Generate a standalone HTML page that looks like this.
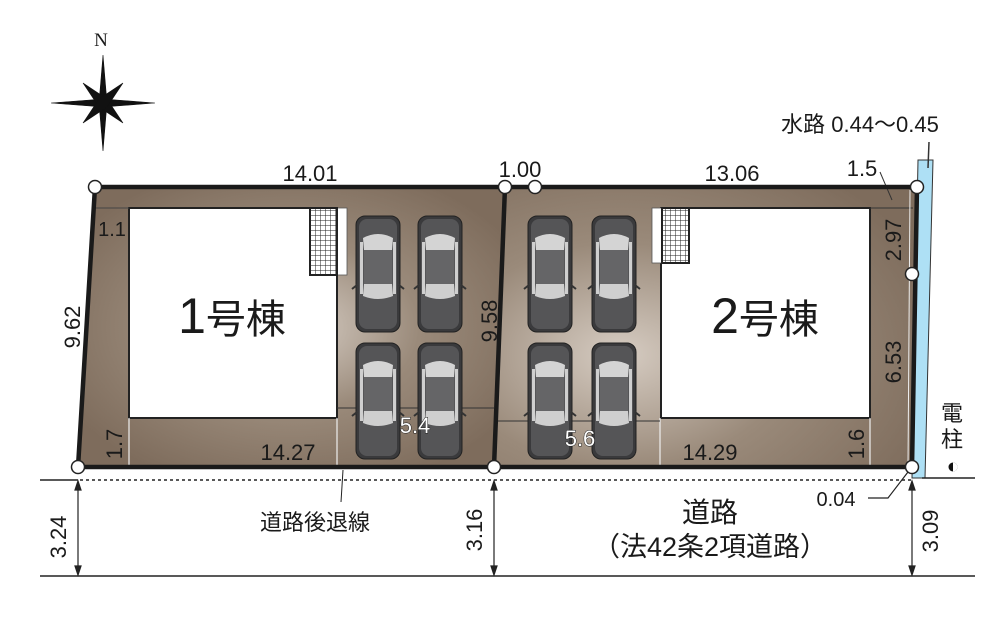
<!DOCTYPE html>
<html><head><meta charset="utf-8"><style>
html,body{margin:0;padding:0;background:#fff}
svg{display:block}
text{font-family:"Liberation Sans","Noto Sans CJK JP",sans-serif;fill:#1a1a1a}
</style></head><body>
<svg width="1000" height="618" viewBox="0 0 1000 618" xmlns="http://www.w3.org/2000/svg">
<defs>
<radialGradient id="g1" cx="0.5" cy="0.5" r="0.6">
<stop offset="0" stop-color="#d8cfc6"/><stop offset="0.5" stop-color="#9a8a7a"/><stop offset="1" stop-color="#7e6c5c"/>
</radialGradient>
<radialGradient id="g2" cx="0.3" cy="0.6" r="0.8">
<stop offset="0" stop-color="#d6ccc2"/><stop offset="0.5" stop-color="#9a8a7a"/><stop offset="1" stop-color="#7e6c5c"/>
</radialGradient>
<pattern id="grid" width="5" height="5" patternUnits="userSpaceOnUse">
<rect width="5" height="5" fill="#fff"/><path d="M0 0H5M0 0V5" stroke="#222" stroke-width="1"/>
</pattern>
<g id="car">
<rect x="0" y="0" width="44" height="116" rx="9" fill="#3a3a3c" stroke="#222" stroke-width="1"/>
<rect x="3" y="3" width="38" height="110" rx="8" fill="#555557"/>
<path d="M7 22 Q22 14 37 22 L36 34 H8 Z" fill="#d4d4d4"/>
<rect x="8" y="34" width="28" height="34" fill="#656567"/>
<path d="M8 68 H36 L37 80 Q22 86 7 80 Z" fill="#cfcfcf"/>
<rect x="4" y="26" width="3" height="52" fill="#cfcfcf"/><rect x="37" y="26" width="3" height="52" fill="#cfcfcf"/>
<path d="M1 69 l-5 4 M43 69 l5 4" stroke="#333" stroke-width="2"/>
</g>
</defs>

<!-- compass -->
<text x="101" y="46" font-size="19" text-anchor="middle" style="font-family:'Liberation Serif',serif">N</text>
<g transform="translate(103,103)" fill="#111" stroke="#111" stroke-width="0.6">
<path d="M0 -48 L4 0 L0 48 L-4 0 Z"/>
<path d="M-52 0 L0 -4 L52 0 L0 4 Z"/>
<path d="M-20 -20 L4 -4 L20 20 L-4 4 Z"/>
<path d="M20 -20 L4 4 L-20 20 L-4 -4 Z"/>
</g>

<!-- water strip -->
<path d="M918 160 L933 160 L925 478 L912 478 Z" fill="#aee0f5" stroke="#333" stroke-width="1"/>
<line x1="929" y1="142" x2="928" y2="168" stroke="#333" stroke-width="1.5"/>

<!-- lots -->
<path d="M95 187 L505 187 L494 467 L78 467 Z" fill="url(#g1)"/>
<path d="M505 187 L917 187 L912 467 L494 467 Z" fill="url(#g2)"/>

<!-- house 1 -->
<rect x="129" y="208" width="208" height="210" fill="#fff" stroke="#222" stroke-width="2"/>
<rect x="337" y="208" width="10" height="67" fill="#fff" stroke="#555" stroke-width="0.8"/>
<rect x="310" y="208" width="27" height="67" fill="url(#grid)" stroke="#222" stroke-width="2"/>
<path d="M129 418 V467 M337 418 V467" stroke="#eee" stroke-width="1.2"/>
<line x1="337" y1="408" x2="494" y2="408" stroke="#333" stroke-width="1"/>
<line x1="95" y1="208" x2="129" y2="208" stroke="#444" stroke-width="1"/>

<!-- house 2 -->
<rect x="661" y="208" width="209" height="210" fill="#fff" stroke="#222" stroke-width="2"/>
<rect x="652" y="208" width="10" height="55" fill="#fff" stroke="#555" stroke-width="0.8"/>
<rect x="662" y="208" width="27" height="55" fill="url(#grid)" stroke="#222" stroke-width="2"/>
<path d="M660 418 V467 M870 418 V467" stroke="#eee" stroke-width="1.2"/>
<line x1="494" y1="421" x2="660" y2="421" stroke="#333" stroke-width="1"/>
<line x1="870" y1="208" x2="913" y2="208" stroke="#333" stroke-width="1"/>
<line x1="910" y1="190" x2="908" y2="466" stroke="#eee" stroke-width="1"/>
<path d="M880 172 L892 200" stroke="#333" stroke-width="1"/>

<!-- cars -->
<use href="#car" x="356" y="216"/><use href="#car" x="418" y="216"/>
<use href="#car" x="356" y="343"/><use href="#car" x="418" y="343"/>
<use href="#car" x="528" y="216"/><use href="#car" x="592" y="216"/>
<use href="#car" x="528" y="343"/><use href="#car" x="592" y="343"/>

<!-- boundary -->
<path d="M95 187 L917 187 L912 467 L78 467 Z" fill="none" stroke="#1a1a1a" stroke-width="4.5"/>
<line x1="505" y1="187" x2="494" y2="467" stroke="#1a1a1a" stroke-width="4.5"/>
<g fill="#fff" stroke="#222" stroke-width="1.5">
<circle cx="95" cy="187" r="6.5"/><circle cx="505" cy="187" r="6.5"/><circle cx="535" cy="187" r="6.5"/>
<circle cx="917" cy="187" r="6.5"/><circle cx="912" cy="274" r="6.5"/>
<circle cx="78" cy="467" r="6.5"/><circle cx="494" cy="467" r="6.5"/><circle cx="912" cy="467" r="6.5"/>
</g>

<!-- labels -->
<text x="310" y="181" font-size="22" text-anchor="middle">14.01</text>
<text x="520" y="177" font-size="22" text-anchor="middle">1.00</text>
<text x="732" y="181" font-size="22" text-anchor="middle">13.06</text>
<text x="862" y="176" font-size="22" text-anchor="middle">1.5</text>
<text x="860" y="132" font-size="22" text-anchor="middle">水路 0.44～0.45</text>
<text x="112" y="236" font-size="20" text-anchor="middle">1.1</text>
<text transform="translate(80,327) rotate(-90)" font-size="22" text-anchor="middle">9.62</text>
<text transform="translate(497,321) rotate(-90)" font-size="22" text-anchor="middle">9.58</text>
<text transform="translate(901,240) rotate(-90)" font-size="22" text-anchor="middle">2.97</text>
<text transform="translate(901,362) rotate(-90)" font-size="22" text-anchor="middle">6.53</text>
<text transform="translate(122,444) rotate(-90)" font-size="22" text-anchor="middle">1.7</text>
<text transform="translate(864,444) rotate(-90)" font-size="22" text-anchor="middle">1.6</text>
<text x="288" y="460" font-size="22" text-anchor="middle">14.27</text>
<text x="710" y="460" font-size="22" text-anchor="middle">14.29</text>
<text x="415" y="433" font-size="22" text-anchor="middle" style="fill:#fff;stroke:#222;stroke-width:1;paint-order:stroke">5.4</text>
<text x="580" y="446" font-size="22" text-anchor="middle" style="fill:#fff;stroke:#222;stroke-width:1;paint-order:stroke">5.6</text>
<text x="232" y="333" font-size="50" text-anchor="middle">1<tspan font-size="40">号棟</tspan></text>
<text x="765" y="333" font-size="50" text-anchor="middle">2<tspan font-size="40">号棟</tspan></text>
<text x="952" y="421" font-size="22" text-anchor="middle">電</text>
<text x="952" y="447" font-size="22" text-anchor="middle">柱</text>
<circle cx="953" cy="467" r="4.5" fill="#111"/><path d="M953 462.5 A4.5 4.5 0 0 1 953 471.5Z" fill="#fff"/>

<!-- road -->
<line x1="40" y1="480" x2="78" y2="480" stroke="#222" stroke-width="1.5"/>
<line x1="80" y1="480" x2="912" y2="480" stroke="#222" stroke-width="1.5" stroke-dasharray="3,3"/>
<line x1="922" y1="478" x2="975" y2="478" stroke="#222" stroke-width="1.5"/>
<line x1="40" y1="576" x2="975" y2="576" stroke="#222" stroke-width="1.5"/>
<line x1="343" y1="470" x2="341" y2="502" stroke="#222" stroke-width="1"/>
<g stroke="#222" stroke-width="1.2" fill="#222">
<line x1="78" y1="482" x2="78" y2="574"/><path d="M78 481 l-3 9 h6Z M78 575 l-3 -9 h6Z"/>
<line x1="494" y1="482" x2="494" y2="574"/><path d="M494 481 l-3 9 h6Z M494 575 l-3 -9 h6Z"/>
<line x1="912" y1="482" x2="912" y2="574"/><path d="M912 481 l-3 9 h6Z M912 575 l-3 -9 h6Z"/>
</g>
<path d="M868 498 H888 L908 472" stroke="#222" stroke-width="1.2" fill="none"/>
<text x="836" y="506" font-size="20" text-anchor="middle">0.04</text>
<text transform="translate(66,537) rotate(-90)" font-size="22" text-anchor="middle">3.24</text>
<text transform="translate(482,530) rotate(-90)" font-size="22" text-anchor="middle">3.16</text>
<text transform="translate(938,531) rotate(-90)" font-size="22" text-anchor="middle">3.09</text>
<text x="315" y="530" font-size="22" text-anchor="middle">道路後退線</text>
<text x="710" y="522" font-size="28" text-anchor="middle">道路</text>
<text x="710" y="556" font-size="27" text-anchor="middle">（法42条2項道路）</text>
</svg>
</body></html>
